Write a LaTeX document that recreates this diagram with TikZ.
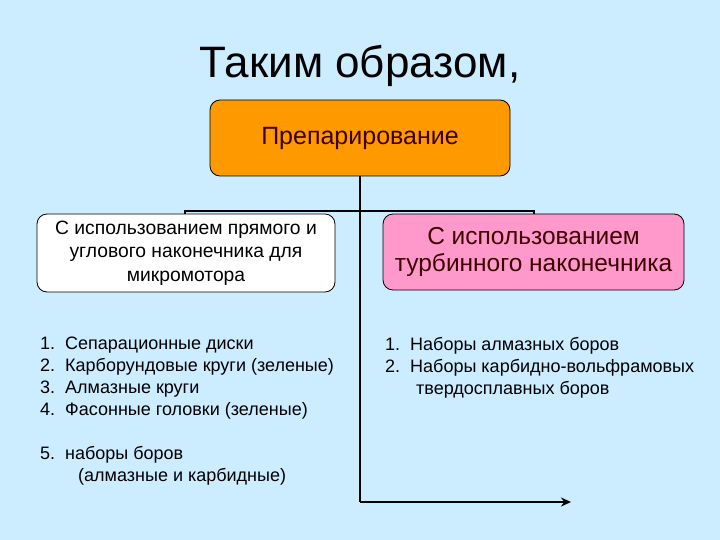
\documentclass[tikz,border=0pt]{standalone}
\usepackage{fontspec}
\setmainfont{Liberation Sans}
\usetikzlibrary{arrows.meta}
\definecolor{bg}{RGB}{204,236,255}
\definecolor{orangefill}{RGB}{255,153,0}
\definecolor{pinkfill}{RGB}{255,153,204}
\definecolor{darktext}{RGB}{60,0,0}
\tikzset{
  box/.style={draw=black, line width=0.8pt, rounded corners=10pt, align=center, inner sep=0pt},
  link/.style={line width=2.5pt, black},
  listtext/.style={anchor=north west, align=left, inner sep=0pt, font=\fontsize{18}{22}\selectfont}
}
\newcommand{\itm}[1]{\makebox[25pt][l]{#1}}
\begin{document}
\begin{tikzpicture}[x=1pt,y=-1pt]
\fill[bg] (0,0) rectangle (720,540);
\useasboundingbox (0,0) rectangle (720,540);
\node[inner sep=0pt, font=\fontsize{44}{48}\selectfont] (title) at (360,66) {Таким образом,};
\node[box, fill=orangefill, minimum width=300pt, minimum height=76pt, text=darktext, font=\fontsize{25}{29}\selectfont] (prep) at (360,138) {Препарирование};
\node[box, fill=white, minimum width=298pt, minimum height=78pt, font=\fontsize{19.3}{23.5}\selectfont] (left) at (186,253) {С использованием прямого и\\углового наконечника для\\микромотора};
\node[box, fill=pinkfill, minimum width=301pt, minimum height=76pt, text=darktext, font=\fontsize{24.5}{27.5}\selectfont] (right) at (533.5,252) {С использованием\\турбинного наконечника};
\coordinate (hl) at (185,211);
\coordinate (hr) at (534,211);
\coordinate (bottom) at (360,502);
\coordinate (arrowend) at (571,502);
\draw[link] (prep.south) -- (bottom);
\draw[link] ([yshift=-3pt]hl) -- (hl) -- (hr) -- ([yshift=-3pt]hr);
\draw[link, -{Stealth[length=10pt,width=9pt]}] (bottom) -- (arrowend);
\node[listtext] (llist) at (40,337) {\itm{1.}Сепарационные диски\\\itm{2.}Карборундовые круги (зеленые)\\\itm{3.}Алмазные круги\\\itm{4.}Фасонные головки (зеленые)\\[22pt]\itm{5.}наборы боров\\\hspace{38pt}(алмазные и карбидные)};
\node[listtext] (rlist) at (385,337) {\itm{1.}Наборы алмазных боров\\\itm{2.}Наборы карбидно-вольфрамовых\\\hspace{31pt}твердосплавных боров};
\end{tikzpicture}
\end{document}
